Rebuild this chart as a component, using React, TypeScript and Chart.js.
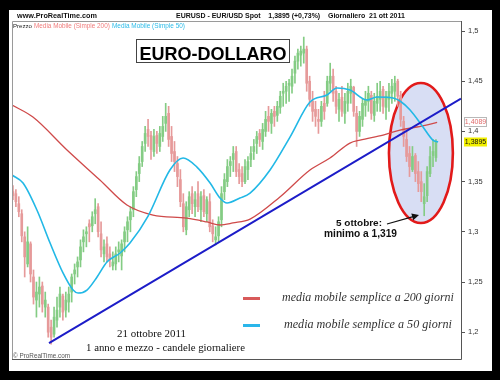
import React, { useEffect, useRef } from "react";
import { Chart, registerables } from "chart.js";

Chart.register(...registerables);

// Month labels (x ticks at month starts, in months from 1 May 2010)
const monthLabels = ["mag", "giu", "lug", "ago", "set", "ott", "nov", "dic", "2011", "feb", "mar", "apr", "mag", "giu", "lug", "ago", "set", "ott", "nov"];
const priceTicks = [1.2, 1.25, 1.3, 1.35, 1.4, 1.45, 1.5];

// Candles: one every ~2.7 trading days, first one at -0.3 months
const periodStart = -0.3;
const periodStep = 0.125;

const opens = [
  1.340, 1.338, 1.328, 1.318, 1.295, 1.268, 1.288, 1.255, 1.232, 1.238,
  1.246, 1.225, 1.225, 1.205, 1.198, 1.212, 1.225, 1.236, 1.222, 1.230,
  1.240, 1.258, 1.265, 1.272, 1.290, 1.298, 1.308, 1.306, 1.318, 1.325,
  1.298, 1.278, 1.288, 1.278, 1.266, 1.268, 1.280, 1.276, 1.290, 1.302,
  1.312, 1.322, 1.342, 1.358, 1.370, 1.388, 1.402, 1.396, 1.380, 1.396,
  1.385, 1.395, 1.408, 1.418, 1.395, 1.380, 1.368, 1.352, 1.328, 1.302,
  1.322, 1.338, 1.325, 1.338, 1.322, 1.336, 1.318, 1.330, 1.306, 1.292,
  1.296, 1.312, 1.340, 1.350, 1.366, 1.372, 1.380, 1.362, 1.358, 1.350,
  1.362, 1.372, 1.380, 1.388, 1.398, 1.390, 1.400, 1.415, 1.408, 1.420,
  1.416, 1.424, 1.438, 1.440, 1.446, 1.445, 1.458, 1.470, 1.476, 1.478,
  1.482, 1.450, 1.430, 1.422, 1.412, 1.410, 1.428, 1.428, 1.448, 1.455,
  1.440, 1.422, 1.434, 1.418, 1.428, 1.438, 1.444, 1.418, 1.400, 1.412,
  1.426, 1.430, 1.436, 1.416, 1.428, 1.432, 1.442, 1.424, 1.432, 1.438,
  1.440, 1.450, 1.436, 1.410, 1.392, 1.378, 1.362, 1.376, 1.360, 1.350,
  1.328, 1.336, 1.358, 1.376, 1.374,
];
const highs = [
  1.346, 1.342, 1.335, 1.322, 1.300, 1.305, 1.290, 1.262, 1.250, 1.255,
  1.250, 1.240, 1.228, 1.212, 1.225, 1.235, 1.245, 1.238, 1.240, 1.245,
  1.258, 1.268, 1.275, 1.292, 1.302, 1.305, 1.312, 1.320, 1.333, 1.328,
  1.310, 1.292, 1.295, 1.285, 1.280, 1.285, 1.290, 1.292, 1.305, 1.315,
  1.325, 1.345, 1.360, 1.375, 1.390, 1.405, 1.412, 1.400, 1.402, 1.400,
  1.405, 1.415, 1.428, 1.425, 1.405, 1.390, 1.375, 1.362, 1.338, 1.330,
  1.340, 1.345, 1.340, 1.350, 1.340, 1.342, 1.335, 1.338, 1.312, 1.305,
  1.315, 1.345, 1.358, 1.372, 1.375, 1.385, 1.385, 1.368, 1.365, 1.372,
  1.375, 1.385, 1.392, 1.400, 1.402, 1.408, 1.420, 1.425, 1.422, 1.425,
  1.430, 1.440, 1.448, 1.450, 1.452, 1.462, 1.475, 1.482, 1.485, 1.494,
  1.485, 1.455, 1.440, 1.430, 1.422, 1.430, 1.440, 1.455, 1.468, 1.462,
  1.445, 1.438, 1.445, 1.438, 1.448, 1.452, 1.445, 1.425, 1.420, 1.432,
  1.440, 1.445, 1.440, 1.438, 1.448, 1.450, 1.445, 1.440, 1.448, 1.452,
  1.455, 1.452, 1.440, 1.415, 1.400, 1.385, 1.385, 1.378, 1.370, 1.360,
  1.348, 1.365, 1.385, 1.392, 1.392,
];
const lows = [
  1.332, 1.325, 1.315, 1.290, 1.255, 1.265, 1.250, 1.228, 1.215, 1.225,
  1.220, 1.215, 1.195, 1.188, 1.195, 1.205, 1.215, 1.212, 1.215, 1.220,
  1.230, 1.248, 1.255, 1.265, 1.280, 1.285, 1.290, 1.300, 1.308, 1.295,
  1.275, 1.270, 1.270, 1.265, 1.262, 1.262, 1.270, 1.262, 1.280, 1.290,
  1.300, 1.315, 1.335, 1.350, 1.365, 1.380, 1.385, 1.372, 1.375, 1.378,
  1.380, 1.390, 1.400, 1.385, 1.370, 1.360, 1.345, 1.325, 1.300, 1.297,
  1.315, 1.318, 1.315, 1.320, 1.310, 1.315, 1.310, 1.300, 1.290, 1.287,
  1.290, 1.305, 1.332, 1.345, 1.355, 1.360, 1.355, 1.348, 1.345, 1.348,
  1.352, 1.365, 1.372, 1.378, 1.385, 1.382, 1.395, 1.400, 1.398, 1.405,
  1.410, 1.418, 1.425, 1.428, 1.430, 1.438, 1.448, 1.462, 1.465, 1.468,
  1.440, 1.425, 1.410, 1.405, 1.398, 1.405, 1.412, 1.425, 1.440, 1.430,
  1.418, 1.410, 1.415, 1.408, 1.420, 1.428, 1.415, 1.385, 1.395, 1.405,
  1.415, 1.420, 1.412, 1.410, 1.420, 1.420, 1.418, 1.412, 1.420, 1.428,
  1.430, 1.425, 1.405, 1.385, 1.370, 1.355, 1.360, 1.350, 1.340, 1.330,
  1.316, 1.330, 1.355, 1.365, 1.370,
];
const closes = [
  1.336, 1.330, 1.320, 1.296, 1.275, 1.290, 1.258, 1.235, 1.240, 1.245,
  1.228, 1.232, 1.200, 1.195, 1.215, 1.222, 1.238, 1.220, 1.232, 1.238,
  1.255, 1.262, 1.270, 1.285, 1.295, 1.300, 1.305, 1.315, 1.322, 1.300,
  1.282, 1.285, 1.275, 1.272, 1.270, 1.278, 1.282, 1.288, 1.300, 1.310,
  1.320, 1.340, 1.355, 1.368, 1.385, 1.398, 1.395, 1.382, 1.395, 1.388,
  1.398, 1.405, 1.415, 1.392, 1.378, 1.370, 1.355, 1.330, 1.305, 1.325,
  1.335, 1.328, 1.332, 1.325, 1.335, 1.320, 1.332, 1.305, 1.298, 1.295,
  1.310, 1.338, 1.352, 1.365, 1.370, 1.378, 1.360, 1.355, 1.350, 1.365,
  1.370, 1.378, 1.385, 1.395, 1.392, 1.402, 1.412, 1.410, 1.418, 1.415,
  1.425, 1.435, 1.440, 1.445, 1.448, 1.455, 1.470, 1.478, 1.480, 1.482,
  1.448, 1.432, 1.420, 1.415, 1.410, 1.425, 1.420, 1.450, 1.455, 1.438,
  1.425, 1.432, 1.420, 1.430, 1.440, 1.445, 1.420, 1.400, 1.415, 1.428,
  1.432, 1.438, 1.418, 1.430, 1.435, 1.440, 1.425, 1.435, 1.440, 1.445,
  1.448, 1.435, 1.412, 1.395, 1.375, 1.365, 1.375, 1.358, 1.348, 1.340,
  1.335, 1.360, 1.375, 1.380, 1.3895,
];

// Moving averages (month position, value)
const ma200X = [-0.34, 0.55, 2.0, 3.4, 4.55, 5.66, 7.1, 7.96, 8.51, 9.06, 9.79, 11.06, 12.34, 13.19, 14.04, 14.47, 15.45, 16.17, 16.89, 17.75];
const ma200Y = [1.4263, 1.4143, 1.3815, 1.3516, 1.3267, 1.3167, 1.3137, 1.3098, 1.3068, 1.3088, 1.3127, 1.3347, 1.3616, 1.3735, 1.3884, 1.3914, 1.3964, 1.4014, 1.4044, 1.4089];
const ma50X = [-0.34, 0.13, 0.72, 1.28, 1.83, 2.26, 2.47, 2.85, 3.28, 3.70, 4.26, 4.68, 5.45, 6.38, 6.94, 7.53, 8.09, 8.51, 8.81, 9.36, 9.79, 10.64, 11.49, 12.34, 13.06, 13.49, 14.04, 14.77, 15.19, 15.87, 16.17, 16.6, 17.15, 17.57, 17.79];
const ma50Y = [1.3566, 1.3486, 1.3217, 1.2888, 1.2590, 1.2420, 1.2390, 1.2420, 1.2550, 1.2699, 1.2789, 1.2888, 1.3157, 1.3616, 1.3735, 1.3645, 1.3486, 1.3337, 1.3287, 1.3337, 1.3386, 1.3616, 1.3944, 1.4293, 1.4363, 1.4432, 1.4412, 1.4313, 1.4343, 1.4333, 1.4303, 1.4213, 1.4044, 1.3914, 1.3894];
const trendX = [1.234, 18.766];
const trendY = [1.1892, 1.4327];

const lastMa200 = 1.4089;
const lastClose = 1.3895;

const FONT = "'Liberation Sans', Arial, sans-serif";
const SERIF = "'Liberation Serif', 'Times New Roman', serif";

function fitText(ctx: CanvasRenderingContext2D, text: string, x: number, y: number, w: number, style: string, family: string, color: string, align: CanvasTextAlign = "left") {
  ctx.font = `${style} 10px ${family}`;
  const m = ctx.measureText(text).width;
  const size = (10 * w) / m;
  ctx.font = `${style} ${size.toFixed(2)}px ${family}`;
  ctx.fillStyle = color;
  ctx.textAlign = align;
  ctx.textBaseline = "alphabetic";
  ctx.fillText(text, x, y);
}

const framePlugin = {
  id: "frame",
  beforeDraw(chart: any) {
    const { ctx, width, height } = chart;
    ctx.save();
    ctx.fillStyle = "#000";
    ctx.fillRect(0, 0, width, height);
    ctx.fillStyle = "#fff";
    ctx.fillRect(9, 10, 483, 361);
    ctx.restore();
  },
  beforeDatasetsDraw(chart: any) {
    const { ctx, scales } = chart;
    const xs = scales.x, ys = scales.y;
    // ellipse highlight
    const cxv = 17.06, cyv = 1.3785;
    const cx = xs.getPixelForValue(cxv);
    const cy = ys.getPixelForValue(cyv);
    const rx = xs.getPixelForValue(cxv + 1.36) - cx;
    const ry = cy - ys.getPixelForValue(cyv + 0.0697);
    ctx.save();
    ctx.beginPath();
    ctx.ellipse(cx, cy, rx, ry, 0, 0, Math.PI * 2);
    ctx.fillStyle = "#d8def4";
    ctx.fill();
    ctx.lineWidth = 2.6;
    ctx.strokeStyle = "#e21a1a";
    ctx.stroke();
    ctx.restore();
  },
  afterDraw(chart: any) {
    const { ctx, chartArea, scales } = chart;
    const ys = scales.y;
    const { left, right, top, bottom } = chartArea;
    ctx.save();
    // plot border
    ctx.lineWidth = 1;
    ctx.strokeStyle = "#9a9a9a";
    ctx.beginPath();
    ctx.moveTo(left + 0.5, bottom);
    ctx.lineTo(left + 0.5, top + 0.5);
    ctx.lineTo(right, top + 0.5);
    ctx.stroke();
    ctx.strokeStyle = "#555";
    ctx.beginPath();
    ctx.moveTo(right + 0.5, top);
    ctx.lineTo(right + 0.5, bottom + 0.5);
    ctx.lineTo(left, bottom + 0.5);
    ctx.stroke();

    // header
    fitText(ctx, "www.ProRealTime.com", 17, 18, 80, "bold", FONT, "#111");
    fitText(ctx, "EURUSD - EUR/USD Spot    1,3895 (+0,73%)    Giornaliero  21 ott 2011", 176, 18, 229, "bold", FONT, "#111");

    // legend row in plot
    fitText(ctx, "Prezzo", 13, 28, 19, "normal", FONT, "#222");
    fitText(ctx, "Media Mobile (Simple 200)", 34, 28, 76, "normal", FONT, "#f07c7c");
    fitText(ctx, "Media Mobile (Simple 50)", 112, 28, 73, "normal", FONT, "#2bbbe8");

    // title box
    ctx.fillStyle = "#fff";
    ctx.fillRect(136.5, 39.5, 153, 23);
    ctx.strokeStyle = "#444";
    ctx.strokeRect(136.5, 39.5, 153, 23);
    ctx.font = `bold 18px ${FONT}`;
    ctx.fillStyle = "#000";
    ctx.textAlign = "center";
    ctx.textBaseline = "alphabetic";
    ctx.fillText("EURO-DOLLARO", 213, 60);

    // annotation text + arrow
    fitText(ctx, "5 ottobre:", 359, 226, 46, "bold", FONT, "#111", "center");
    fitText(ctx, "minimo a 1,319", 360.5, 237, 73, "bold", FONT, "#111", "center");
    const ax0 = 387, ay0 = 224, ax1 = 419, ay1 = 215;
    ctx.strokeStyle = "#111";
    ctx.lineWidth = 1.2;
    ctx.beginPath();
    ctx.moveTo(ax0, ay0);
    ctx.lineTo(ax1 - 5, ay1 + 1.4);
    ctx.stroke();
    const ang = Math.atan2(ay1 - ay0, ax1 - ax0);
    ctx.fillStyle = "#111";
    ctx.beginPath();
    ctx.moveTo(ax1, ay1);
    ctx.lineTo(ax1 - 7 * Math.cos(ang) + 3.5 * Math.sin(ang), ay1 - 7 * Math.sin(ang) - 3.5 * Math.cos(ang));
    ctx.lineTo(ax1 - 7 * Math.cos(ang) - 3.5 * Math.sin(ang), ay1 - 7 * Math.sin(ang) + 3.5 * Math.cos(ang));
    ctx.closePath();
    ctx.fill();

    // bottom legend
    ctx.lineWidth = 3;
    ctx.strokeStyle = "#d85a5a";
    ctx.beginPath();
    ctx.moveTo(243, 298.5);
    ctx.lineTo(260, 298.5);
    ctx.stroke();
    ctx.strokeStyle = "#2ab6ea";
    ctx.beginPath();
    ctx.moveTo(243, 325.5);
    ctx.lineTo(260, 325.5);
    ctx.stroke();
    fitText(ctx, "media mobile semplice a 200 giorni", 282, 301, 172, "italic", SERIF, "#333");
    fitText(ctx, "media mobile semplice a 50 giorni", 284, 328, 168, "italic", SERIF, "#333");

    // center text
    fitText(ctx, "21 ottobre 2011", 151.5, 337, 69, "normal", SERIF, "#111", "center");
    fitText(ctx, "1 anno e mezzo - candele giornaliere", 165.5, 351, 159, "normal", SERIF, "#111", "center");

    // copyright
    fitText(ctx, "\u00A9 ProRealTime.com", 13, 358, 57, "normal", FONT, "#555");

    // value boxes on axis
    const yMa = ys.getPixelForValue(lastMa200);
    ctx.fillStyle = "#fff";
    ctx.fillRect(464.5, Math.round(yMa) - 4.5, 22, 9);
    ctx.strokeStyle = "#b8b8b8";
    ctx.lineWidth = 1;
    ctx.strokeRect(464.5, Math.round(yMa) - 4.5, 22, 9);
    ctx.font = `7px ${FONT}`;
    ctx.textAlign = "center";
    ctx.textBaseline = "middle";
    ctx.fillStyle = "#e06a6a";
    ctx.fillText("1,4089", 475.5, Math.round(yMa) + 0.5);
    const yC = ys.getPixelForValue(lastClose);
    ctx.fillStyle = "#f2f000";
    ctx.fillRect(464, Math.round(yC) - 4.5, 23, 9);
    ctx.fillStyle = "#111";
    ctx.fillText("1,3895", 475.5, Math.round(yC) + 0.5);
    ctx.restore();
  },
};

const GREEN = "#84cc84";
const RED = "#e69a9a";

export default function App() {
  const ref = useRef<HTMLCanvasElement | null>(null);

  useEffect(() => {
    document.body.style.margin = "0";
    const canvas = ref.current;
    if (!canvas) return;
    const xs = closes.map((_, i) => periodStart + i * periodStep);
    const colors = closes.map((c, i) => (c >= opens[i] ? GREEN : RED));
    const chart = new Chart(canvas, {
      type: "bar",
      data: {
        datasets: [
          {
            type: "line",
            data: trendX.map((x, i) => ({ x, y: trendY[i] })),
            borderColor: "#1c1cc8",
            borderWidth: 2,
            pointRadius: 0,
          } as any,
          {
            type: "line",
            data: ma50X.map((x, i) => ({ x, y: ma50Y[i] })),
            borderColor: "#22b8e6",
            borderWidth: 1.6,
            pointRadius: 0,
            cubicInterpolationMode: "monotone",
          } as any,
          {
            type: "line",
            data: ma200X.map((x, i) => ({ x, y: ma200Y[i] })),
            borderColor: "#cf4a4a",
            borderWidth: 1.3,
            pointRadius: 0,
            cubicInterpolationMode: "monotone",
          } as any,
          {
            type: "bar",
            data: xs.map((x, i) => ({ x, y: [opens[i], closes[i]] })),
            backgroundColor: colors,
            barThickness: 2,
            minBarLength: 1,
            grouped: false,
          } as any,
          {
            type: "bar",
            data: xs.map((x, i) => ({ x, y: [lows[i], highs[i]] })),
            backgroundColor: colors,
            barThickness: 1,
            grouped: false,
          } as any,
        ],
      },
      options: {
        animation: false,
        responsive: false,
        devicePixelRatio: 1,
        layout: { padding: { left: 12, top: 21, right: 8, bottom: 9 } },
        plugins: { legend: { display: false }, tooltip: { enabled: false } },
        scales: {
          x: {
            type: "linear",
            min: -0.34,
            max: 18.766,
            offset: false,
            afterBuildTicks: (s: any) => {
              s.ticks = monthLabels.map((_, i) => ({ value: i }));
            },
            afterFit: (s: any) => {
              s.height = 12;
            },
            ticks: {
              autoSkip: false,
              maxRotation: 0,
              padding: 3,
              color: "#333",
              font: (c: any) => ({ family: FONT, size: 7.5, weight: c.tick && c.tick.value === 8 ? "bold" : "normal" }),
              callback: (v: any) => monthLabels[Math.round(v)] ?? "",
            },
            grid: { display: false, offset: false },
            border: { display: false },
          },
          y: {
            type: "linear",
            position: "right",
            min: 1.1733,
            max: 1.51,
            afterBuildTicks: (s: any) => {
              s.ticks = priceTicks.map((v) => ({ value: v }));
            },
            afterFit: (s: any) => {
              s.width = 31;
            },
            ticks: {
              padding: 3,
              color: "#333",
              font: { family: FONT, size: 7.5 },
              callback: (v: any) => Number(v).toFixed(2).replace(/0$/, "").replace(".", ","),
            },
            grid: { drawOnChartArea: false, drawTicks: true, tickLength: 4, color: "#555" },
            border: { display: false },
          },
        },
      },
      plugins: [framePlugin],
    });
    return () => chart.destroy();
  }, []);

  return <canvas ref={ref} width={500} height={380} style={{ display: "block" }} />;
}
